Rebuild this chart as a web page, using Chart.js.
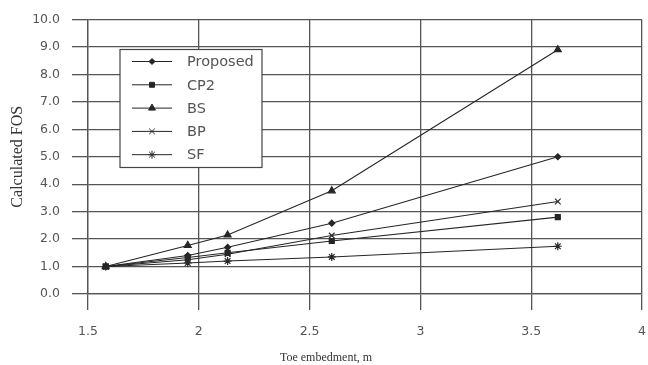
<!DOCTYPE html>
<html>
<head>
<meta charset="utf-8">
<script src="https://cdn.jsdelivr.net/npm/chart.js@4.4.0/dist/chart.umd.min.js"></script>
<style>
	html, body { margin: 0; padding: 0; background: #fff; overflow: hidden; }
	#wrap { width: 660px; height: 365px; position: relative; }
</style>
</head>
<body>
<div id="wrap"><canvas id="myChart"></canvas></div>
<script>
const toeEmbedment = [1.58, 1.95, 2.13, 2.6, 3.62]
const proposed = [1.0, 1.4, 1.7, 2.58, 5.0]
const cp2 = [1.0, 1.33, 1.5, 1.93, 2.8]
const bs = [1.0, 1.77, 2.15, 3.76, 8.9]
const bp = [1.0, 1.25, 1.45, 2.13, 3.37]
const sf = [1.0, 1.13, 1.2, 1.35, 1.74]
const xTicks = [1.5, 2, 2.5, 3, 3.5, 4]
const yTicks = [0, 1, 2, 3, 4, 5, 6, 7, 8, 9, 10]

const ink = '#262626'
const gridInk = '#555'
const tickFont = { family: '"DejaVu Sans", sans-serif', size: 12.5 }

function series(label, values, style, radius) {
	return {
		label: label,
		data: toeEmbedment.map((x, i) => ({ x: x, y: values[i] })),
		borderColor: ink,
		backgroundColor: ink,
		borderWidth: 1.1,
		pointStyle: style,
		pointRadius: radius,
		pointBorderColor: ink,
		pointBackgroundColor: ink,
		pointBorderWidth: 1.2,
		tension: 0,
	}
}

// legend box inside the plot + x axis title (sits left of centre in the original)
const extras = {
	id: 'extras',
	afterDatasetsDraw(chart) {
		const ctx = chart.ctx
		const a = chart.chartArea
		const left = a.left + 32, top = a.top + 30, w = 142, h = 118
		ctx.save()
		ctx.fillStyle = '#fff'
		ctx.fillRect(left, top, w, h)
		ctx.strokeStyle = '#444'
		ctx.lineWidth = 1.2
		ctx.strokeRect(left, top, w, h)
		ctx.font = '14.5px "DejaVu Sans", sans-serif'
		ctx.textBaseline = 'middle'
		chart.data.datasets.forEach((ds, i) => {
			const y = top + 12 + i * 23.3
			ctx.strokeStyle = ink
			ctx.lineWidth = 1
			ctx.beginPath()
			ctx.moveTo(left + 12, y)
			ctx.lineTo(left + 52, y)
			ctx.stroke()
			ctx.fillStyle = ink
			ctx.strokeStyle = ink
			Chart.helpers.drawPoint(ctx, { pointStyle: ds.pointStyle, radius: ds.pointRadius, rotation: 0, borderWidth: 1.2 }, left + 32, y)
			ctx.fillStyle = '#555'
			ctx.fillText(ds.label, left + 67, y + 1)
		})

		ctx.fillStyle = '#333'
		ctx.font = '12px "Liberation Serif", serif'
		ctx.textAlign = 'center'
		ctx.fillText('Toe embedment, m', a.left + 238, 358)
		ctx.restore()
	}
}

function getChart() {
	const context = document.getElementById('myChart')
	const data = {
		datasets: [
			series('Proposed', proposed, 'rectRot', 3),
			series('CP2', cp2, 'rect', 3.5),
			series('BS', bs, 'triangle', 4),
			series('BP', bp, 'crossRot', 4),
			series('SF', sf, 'star', 4),
		]
	}
	const config = {
		type: 'line',
		data: data,
		plugins: [extras],
		options: {
			responsive: true,
			maintainAspectRatio: false,
			animation: false,
			layout: { padding: { top: 15, right: 17, bottom: 0, left: 0 } },
			plugins: {
				legend: { display: false },
				tooltip: { enabled: false },
			},
			scales: {
				x: {
					type: 'linear',
					min: 1.5,
					max: 4,
					afterBuildTicks: axis => { axis.ticks = xTicks.map(v => ({ value: v })) },
					afterFit: axis => { axis.height = 71 },
					ticks: {
						color: '#555',
						font: tickFont,
						padding: 14,
						maxRotation: 0,
						callback: v => String(v),
					},
					grid: { color: gridInk, lineWidth: 1.3, tickLength: 16, tickColor: gridInk },
					border: { color: gridInk, width: 1.3 },
				},
				y: {
					min: 0,
					max: 10,
					afterBuildTicks: axis => { axis.ticks = yTicks.map(v => ({ value: v })) },
					afterFit: axis => { axis.width = 88 },
					ticks: {
						color: '#555',
						font: tickFont,
						padding: 12,
						callback: v => v.toFixed(1),
					},
					grid: { color: gridInk, lineWidth: 1.3, tickLength: 16, tickColor: gridInk },
					border: { color: gridInk, width: 1.3 },
					title: {
						display: true,
						text: 'Calculated FOS',
						color: '#333',
						font: { family: '"Liberation Serif", serif', size: 16 },
						padding: { top: 8, bottom: 4 },
					},
				},
			},
		},
	}
	const myChart = new Chart(context, config)
}
getChart()
</script>
</body>
</html>
